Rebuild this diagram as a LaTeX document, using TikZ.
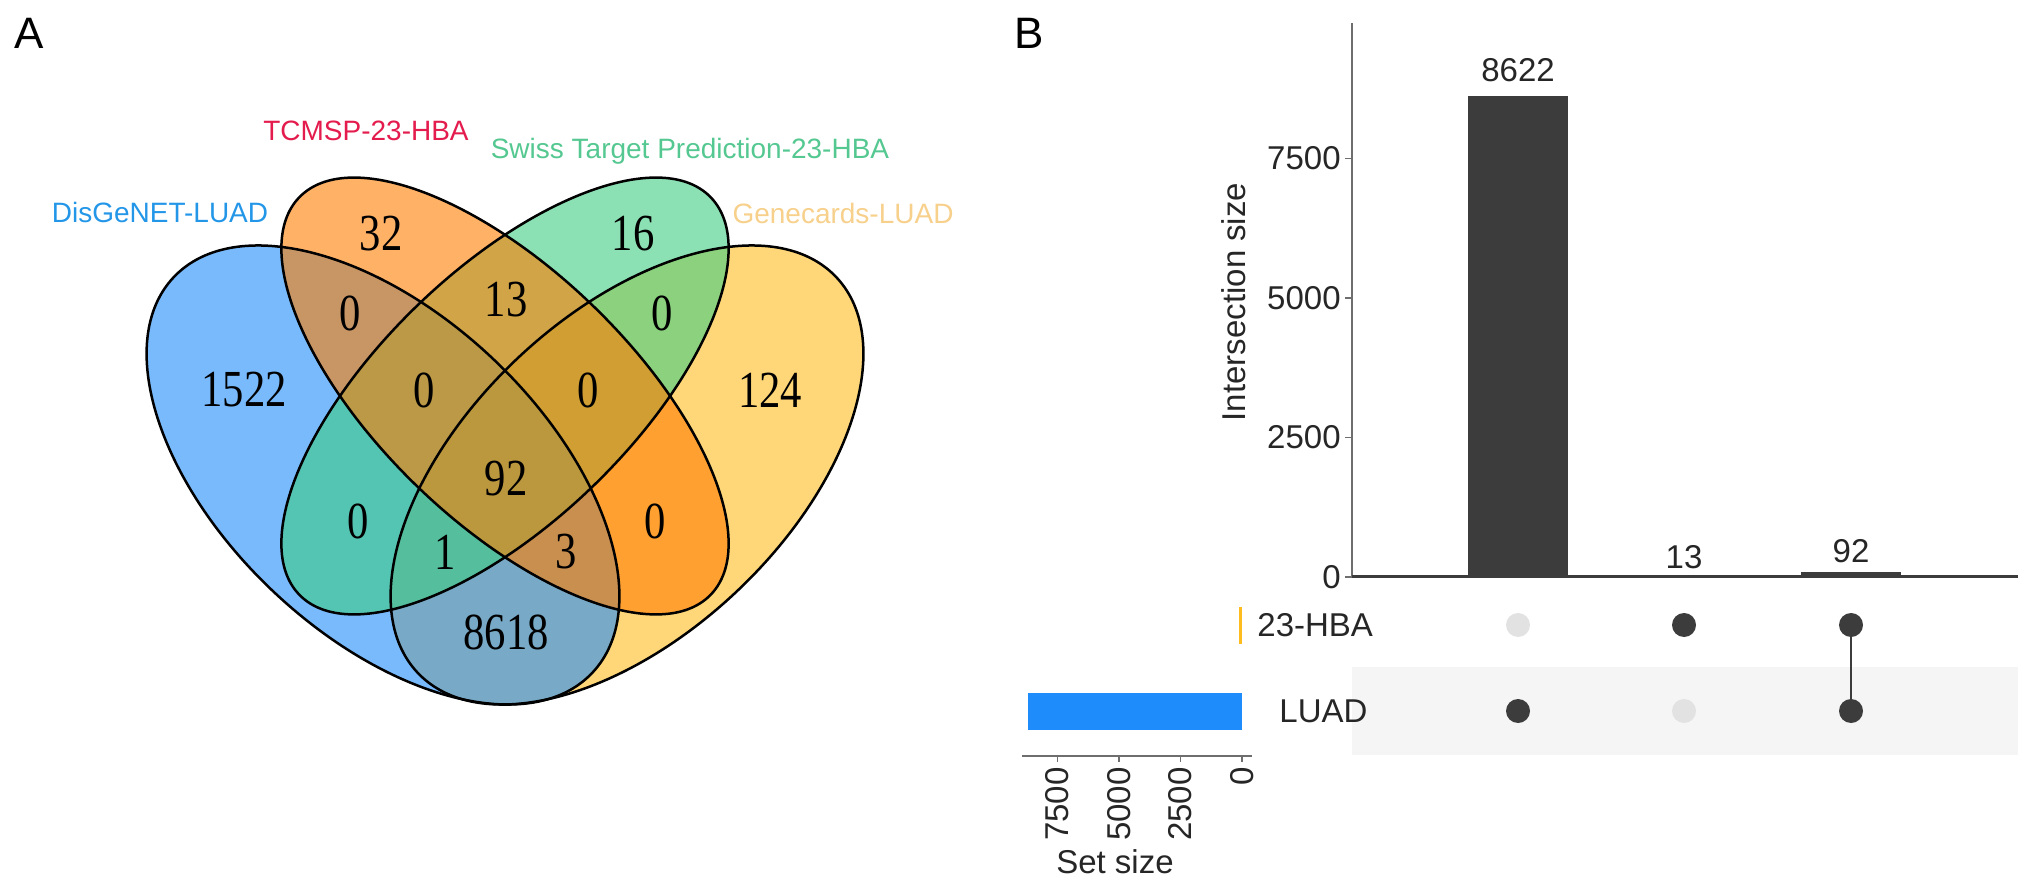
\documentclass[tikz,border=0pt]{standalone}
\usepackage{fontspec}
\setmainfont{Liberation Sans}
\newfontfamily\vennnum[FakeStretch=0.82]{Liberation Serif}
\usepackage{xcolor}
\usepackage{tikz}
\usetikzlibrary{positioning}

\definecolor{disblue}{RGB}{30,140,250}
\definecolor{tcmorange}{RGB}{255,125,0}
\definecolor{swissgreen}{RGB}{63,205,130}
\definecolor{geneyellow}{RGB}{255,188,30}
\definecolor{lbldis}{RGB}{35,150,232}
\definecolor{lbltcm}{RGB}{228,28,78}
\definecolor{lblswiss}{RGB}{85,200,145}
\definecolor{lblgene}{RGB}{247,208,140}
\definecolor{upsetdark}{RGB}{60,60,60}
\definecolor{upsetlight}{RGB}{226,226,226}
\definecolor{upsetstripe}{RGB}{245,245,245}
\definecolor{axisgray}{RGB}{110,110,110}

\begin{document}
\begin{tikzpicture}[x=0.5pt, y=-0.5pt,
  disset/.style={rotate around={-43.4:(383,475)}},
  geneset/.style={rotate around={43.4:(627,475)}},
  tcmset/.style={rotate around={-44:(505,396)}},
  swissset/.style={rotate around={44:(505,396)}},
  vennfill/.style={fill opacity=0.6},
  vennline/.style={draw=black, line width=1.25pt},
  setlabel/.style={font=\fontsize{14}{16}\selectfont, inner sep=0pt},
  count/.style={font=\vennnum\fontsize{26}{30}\selectfont, inner sep=0pt},
  panel/.style={font=\fontsize{22}{26}\selectfont, inner sep=0pt},
  axislbl/.style={font=\fontsize{16.5}{19}\selectfont, text=black!85, inner sep=0pt},
  bar/.style={fill=upsetdark, minimum width=50pt, inner sep=0pt, outer sep=0pt},
  setbar/.style={minimum height=18.5pt, inner sep=0pt, outer sep=0pt, anchor=east},
  dot/.style={circle, fill=upsetdark, minimum size=12pt, inner sep=0pt},
  dotoff/.style={circle, fill=upsetlight, minimum size=12pt, inner sep=0pt}]
  \useasboundingbox (0,0) rectangle (2032,886);

  \node[panel] (pa) at (29,33) {A};
  \node[panel] (pb) at (1029,33) {B};

  % venn fills, then outlines on top
  \fill[geneyellow, vennfill, geneset] (627,475) ellipse [x radius=288, y radius=160];
  \fill[disblue, vennfill, disset] (383,475) ellipse [x radius=288, y radius=160];
  \fill[swissgreen, vennfill, swissset] (505,396) ellipse [x radius=286, y radius=126];
  \fill[tcmorange, vennfill, tcmset] (505,396) ellipse [x radius=286, y radius=126];
  \draw[vennline, geneset] (627,475) ellipse [x radius=288, y radius=160];
  \draw[vennline, disset] (383,475) ellipse [x radius=288, y radius=160];
  \draw[vennline, swissset] (505,396) ellipse [x radius=286, y radius=126];
  \draw[vennline, tcmset] (505,396) ellipse [x radius=286, y radius=126];

  \node[setlabel, text=lbldis] (ldis) at (160,212) {DisGeNET-LUAD};
  \node[setlabel, text=lbltcm] (ltcm) at (366,131) {TCMSP-23-HBA};
  \node[setlabel, text=lblswiss] (lswiss) at (690,151) {Swiss Target Prediction-23-HBA};
  \node[setlabel, text=lblgene] (lgene) at (843,213) {Genecards-LUAD};

  \node[count] (n32) at (381,234) {32};
  \node[count] (n16) at (633,234) {16};
  \node[count] (ndt) at (350,313) {0};
  \node[count] (n13) at (506,300) {13};
  \node[count] (nsg) at (662,313) {0};
  \node[count] (n1522) at (244,390) {1522};
  \node[count] (ndts) at (424,390) {0};
  \node[count] (ntsg) at (588,390) {0};
  \node[count] (n124) at (770,390) {124};
  \node[count] (n92) at (506,479) {92};
  \node[count] (nds) at (358,521) {0};
  \node[count] (n1) at (445,552) {1};
  \node[count] (n3) at (566,552) {3};
  \node[count] (ntg) at (655,521) {0};
  \node[count] (n8618) at (506,632) {8618};

  % upset: intersection bars
  \fill[upsetstripe] (1352,667) rectangle (2018,755);
  \draw[axisgray, line width=0.8pt] (1352,23) -- (1352,577);
  \foreach \v/\yy in {0/577, 2500/437.5, 5000/298, 7500/158.5} {
    \draw[axisgray, line width=0.8pt] (1345,\yy) -- (1352,\yy);
    \node[axislbl, anchor=east] (ytick\v) at (1341,\yy) {\v};
  }
  \node[axislbl, rotate=90] (ylab) at (1234,302) {Intersection size};

  \node[bar, minimum height=240.5pt, anchor=south] (bar8622) at (1518,577) {};
  \node[bar, minimum height=0.4pt, anchor=south] (bar13) at (1684,577) {};
  \node[bar, minimum height=2.6pt, anchor=south] (bar92) at (1851,577) {};
  \draw[upsetdark, line width=1.5pt] (1352,577) -- (2018,577);
  \node[axislbl, above=7pt of bar8622] (t8622) {8622};
  \node[axislbl, above=3.5pt of bar13] (t13) {13};
  \node[axislbl, above=4.5pt of bar92] (t92) {92};

  % matrix
  \node[dotoff] (hba1) at (1518,625) {};
  \node[dot] (hba2) at (1684,625) {};
  \node[dot] (hba3) at (1851,625) {};
  \node[dot] (luad1) at (1518,711) {};
  \node[dotoff] (luad2) at (1684,711) {};
  \node[dot] (luad3) at (1851,711) {};
  \draw[upsetdark, line width=1.3pt] (hba3) -- (luad3);

  \node[axislbl, anchor=west] (rowhba) at (1257,625) {23-HBA};
  \node[axislbl, anchor=west] (rowluad) at (1279,711) {LUAD};

  % set sizes
  \node[setbar, fill=geneyellow, minimum width=1.3pt] (sizehba) at (1242,625) {};
  \node[setbar, fill=disblue, minimum width=107pt] (sizeluad) at (1242,711.5) {};
  \draw[axisgray, line width=0.8pt] (1022,756) -- (1252,756);
  \foreach \v/\xx in {0/1242, 2500/1180.5, 5000/1119, 7500/1057.5} {
    \draw[axisgray, line width=0.8pt] (\xx,756) -- (\xx,762);
    \node[axislbl, rotate=90, anchor=east] (stick\v) at (\xx,767) {\v};
  }
  \node[axislbl] (setsize) at (1115,862) {Set size};
\end{tikzpicture}
\end{document}
